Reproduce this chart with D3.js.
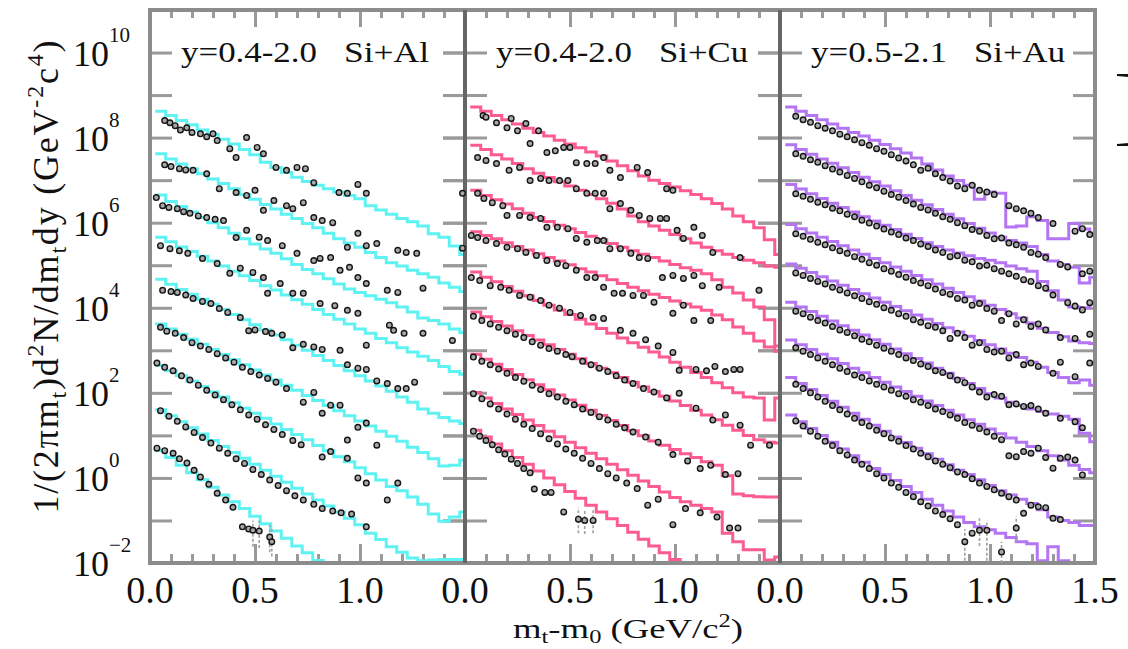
<!DOCTYPE html>
<html><head><meta charset="utf-8">
<script src="https://cdn.jsdelivr.net/npm/d3@7"></script>
<style>body{margin:0;background:#fff}text{font-family:"Liberation Serif","Times New Roman",serif;fill:#111}</style>
</head><body><svg id="c" width="1128" height="649"></svg>
<script>
// ---------- data ----------
const panels = ["Si+Al", "Si+Cu", "Si+Au"];
const rapidity = ["y=0.4-2.0", "y=0.4-2.0", "y=0.5-2.1"];
const lineColors = ["#5ef2f2", "#fb5b8f", "#b475f3"];
const xMinorTicks = [0.1,0.2,0.3,0.4,0.6,0.7,0.8,0.9,1.1,1.2,1.3,1.4];
const xMajorTicks = [0.5,1.0];
const xTickLabels = [[0,0.5,1.0],[0,0.5,1.0],[0,0.5,1.0,1.5]];
const yTickDecades = [-1,0,1,2,3,4,5,6,7,8,9,10];
const yLabelExps = [-2,0,2,4,6,8,10];
// model histograms: log10 of yield per 0.05 GeV bin
const binCenters = [0.05,0.10,0.15,0.20,0.25,0.30,0.35,0.40,0.45,0.50,0.55,0.60,0.65,0.70,0.75,0.80,0.85,0.90,0.95,1.00,1.05,1.10,1.15,1.20,1.25,1.30,1.35,1.40,1.45,1.50];
const binWidth = 0.05;
const alModel = [
 [8.62,8.52,8.40,8.30,8.18,8.08,7.96,7.85,7.72,7.60,7.42,7.30,7.18,7.07,6.97,6.88,6.80,6.72,6.64,6.56,6.40,6.30,6.20,6.10,6.02,5.92,5.74,5.66,5.45,5.25],
 [7.62,7.50,7.38,7.27,7.15,7.03,6.92,6.80,6.66,6.55,6.43,6.32,6.20,6.10,5.98,5.88,5.75,5.62,5.52,5.42,5.30,5.18,5.06,4.98,4.88,4.80,4.72,4.58,4.48,4.38],
 [6.65,6.50,6.38,6.25,6.12,6.00,5.88,5.75,5.62,5.50,5.38,5.28,5.15,5.02,4.90,4.80,4.68,4.56,4.44,4.36,4.28,4.20,4.12,4.02,3.90,3.76,3.70,3.62,3.50,3.42],
 [5.66,5.55,5.43,5.32,5.21,5.10,4.98,4.86,4.75,4.64,4.52,4.42,4.30,4.19,4.08,3.96,3.84,3.73,3.62,3.50,3.40,3.28,3.18,3.06,2.96,2.86,2.76,2.62,2.50,2.44],
 [4.67,4.55,4.43,4.32,4.20,4.08,3.96,3.84,3.72,3.60,3.48,3.36,3.25,3.12,3.00,2.88,2.76,2.64,2.52,2.40,2.28,2.16,2.04,1.90,1.78,1.62,1.52,1.42,1.34,1.28],
 [3.62,3.50,3.38,3.26,3.14,3.02,2.90,2.78,2.66,2.54,2.42,2.30,2.18,2.06,1.94,1.82,1.70,1.58,1.46,1.34,1.22,1.10,0.98,0.86,0.72,0.60,0.45,0.28,0.30,0.42],
 [2.64,2.52,2.40,2.27,2.15,2.02,1.90,1.77,1.64,1.52,1.40,1.27,1.14,1.02,0.90,0.76,0.64,0.50,0.38,0.24,0.10,-0.05,-0.20,-0.30,-0.45,-0.62,-0.85,-1.02,-0.92,-0.80],
 [1.60,1.46,1.32,1.18,1.03,0.88,0.74,0.60,0.46,0.32,0.18,0.04,-0.10,-0.24,-0.38,-0.52,-0.66,-0.80,-0.95,-1.10,-1.30,-1.45,-1.62,-1.75,-1.88,-1.95,-1.93,-1.92,-1.92,-1.92],
 [0.65,0.48,0.30,0.12,-0.04,-0.22,-0.40,-0.56,-0.72,-0.90,-1.08,-1.25,-1.42,-1.60,-1.76,-1.94,-2.10,null,null,null,null,null,null,null,null,null,null,null,null,null]
];
const cuModel = [
 [8.72,8.62,8.52,8.42,8.32,8.22,8.12,8.04,7.94,7.85,7.76,7.66,7.57,7.45,7.34,7.22,7.10,7.00,6.92,6.84,6.75,6.66,6.56,6.45,6.32,6.16,6.02,5.88,5.60,5.25],
 [7.82,7.72,7.60,7.50,7.39,7.27,7.16,7.06,6.96,6.86,6.76,6.66,6.56,6.46,6.32,6.16,6.02,5.92,5.82,5.72,5.62,5.52,5.42,5.34,5.26,5.18,5.12,5.06,4.98,4.95],
 [6.76,6.64,6.54,6.44,6.33,6.22,6.12,6.03,5.94,5.86,5.77,5.68,5.60,5.51,5.42,5.34,5.26,5.18,5.10,5.02,4.94,4.88,4.80,4.66,4.48,4.35,4.18,4.02,3.72,3.10],
 [5.79,5.70,5.62,5.53,5.44,5.36,5.27,5.18,5.10,5.01,4.92,4.84,4.75,4.66,4.57,4.48,4.40,4.32,4.24,4.16,4.09,4.02,3.94,3.83,3.72,3.55,3.40,3.22,3.08,2.98],
 [4.84,4.72,4.61,4.50,4.39,4.28,4.17,4.06,3.95,3.84,3.73,3.62,3.51,3.40,3.29,3.18,3.07,2.96,2.84,2.72,2.60,2.48,2.36,2.24,2.12,2.00,1.90,1.88,1.36,1.88],
 [3.90,3.79,3.68,3.57,3.46,3.35,3.24,3.13,3.02,2.91,2.80,2.69,2.58,2.47,2.36,2.25,2.14,2.03,1.92,1.81,1.70,1.59,1.48,1.37,1.24,1.12,1.00,0.90,0.84,0.82],
 [2.91,2.79,2.67,2.55,2.43,2.31,2.19,2.07,1.95,1.83,1.71,1.59,1.47,1.35,1.23,1.11,0.99,0.87,0.77,0.67,0.57,0.48,0.38,0.30,0.05,-0.38,-0.42,-0.44,-0.45,-0.45],
 [2.01,1.88,1.75,1.62,1.49,1.36,1.23,1.10,0.97,0.84,0.71,0.58,0.45,0.32,0.19,0.06,-0.07,-0.20,-0.33,-0.46,-0.56,-0.64,-0.72,-0.80,-1.30,-1.50,-1.69,-1.69,-1.93,-1.86],
 [1.12,0.96,0.80,0.64,0.48,0.32,0.16,0.00,-0.16,-0.32,-0.48,-0.64,-0.80,-0.96,-1.12,-1.28,-1.44,-1.60,-1.76,-1.92,-2.10,null,null,null,null,null,null,null,null,null]
];
const auModel = [
 [8.72,8.62,8.52,8.42,8.32,8.22,8.12,8.04,7.94,7.84,7.74,7.64,7.52,7.38,7.24,7.10,6.99,6.88,6.55,6.72,6.69,5.90,5.92,6.14,6.05,5.62,5.62,5.98,5.85,5.75],
 [7.83,7.72,7.61,7.50,7.40,7.29,7.18,7.07,6.96,6.86,6.75,6.64,6.53,6.42,6.31,6.20,6.09,5.98,5.87,5.76,5.66,5.58,5.52,5.44,5.25,5.10,5.02,4.95,4.58,4.72],
 [6.90,6.79,6.68,6.57,6.46,6.36,6.25,6.14,6.04,5.94,5.84,5.73,5.63,5.53,5.44,5.36,5.29,5.22,5.16,5.12,5.06,4.98,4.92,4.86,4.62,4.40,4.18,4.02,4.00,4.10],
 [5.96,5.86,5.76,5.66,5.56,5.46,5.36,5.26,5.16,5.06,4.96,4.86,4.76,4.66,4.56,4.46,4.36,4.26,4.16,4.06,3.96,3.86,3.76,3.64,3.52,3.42,3.32,3.22,3.18,3.16],
 [5.03,4.93,4.83,4.73,4.63,4.53,4.43,4.33,4.23,4.13,4.03,3.93,3.83,3.73,3.63,3.53,3.43,3.33,3.23,3.13,3.03,2.93,2.83,2.72,2.60,2.48,2.36,2.24,2.30,2.18],
 [4.13,4.02,3.91,3.80,3.69,3.58,3.47,3.36,3.25,3.14,3.03,2.92,2.81,2.70,2.58,2.46,2.34,2.22,2.10,1.98,1.88,1.78,1.70,1.62,1.56,1.50,1.45,1.38,1.05,0.85],
 [3.24,3.13,3.02,2.91,2.80,2.69,2.58,2.47,2.36,2.25,2.14,2.03,1.92,1.81,1.70,1.59,1.48,1.37,1.26,1.15,1.04,0.94,0.84,0.74,0.64,0.52,0.42,0.30,0.20,0.12],
 [2.36,2.22,2.08,1.94,1.80,1.66,1.52,1.38,1.24,1.10,0.96,0.83,0.70,0.57,0.44,0.31,0.18,0.08,-0.04,-0.18,-0.30,-0.40,-0.50,-0.60,-0.75,-0.92,-1.00,-1.05,-1.12,-1.12],
 [1.48,1.32,1.16,1.00,0.84,0.68,0.52,0.37,0.22,0.08,-0.06,-0.20,-0.34,-0.50,-0.64,-0.78,-0.92,-1.05,-1.15,-1.22,-1.30,-1.40,-1.50,-1.55,-1.95,-1.62,-1.95,-2.20,-2.20,-2.20]
];
// measured points: [mt-m0, log10 yield]
const alData = [
 [[0.07,8.40],[0.095,8.35],[0.12,8.28],[0.145,8.18],[0.175,8.23],[0.20,8.12],[0.24,8.09],[0.27,8.02],[0.30,8.09],[0.32,7.93],[0.38,7.74],[0.41,7.53],[0.46,8.0],[0.51,7.77],[0.54,7.62],[0.60,7.30],[0.65,7.23],[0.70,7.30],[0.74,7.27],[0.78,6.94],[0.90,6.71],[0.94,6.69],[0.99,6.90],[1.03,6.69]],
 [[0.07,7.36],[0.10,7.32],[0.14,7.27],[0.17,7.24],[0.205,7.23],[0.27,7.15],[0.33,6.80],[0.41,6.71],[0.46,6.64],[0.50,6.76],[0.54,6.29],[0.59,6.52],[0.65,6.40],[0.68,6.33],[0.73,6.47],[0.78,6.12],[0.82,6.05],[0.87,6.0],[0.94,5.42],[0.99,5.75],[1.03,5.46],[1.08,5.51],[1.18,5.35],[1.22,5.30],[1.27,5.28]],
 [[0.03,6.59],[0.06,6.40],[0.09,6.36],[0.13,6.33],[0.16,6.26],[0.19,6.22],[0.23,6.16],[0.27,6.12],[0.31,6.08],[0.35,6.05],[0.41,5.65],[0.46,5.82],[0.52,5.66],[0.56,5.58],[0.63,5.46],[0.70,5.28],[0.78,5.11],[0.81,5.16],[0.86,5.18],[0.905,4.88],[0.95,4.95],[0.99,4.71],[1.03,4.57],[1.13,4.41],[1.18,4.36],[1.30,4.46]],
 [[0.05,5.46],[0.095,5.39],[0.14,5.34],[0.18,5.28],[0.25,5.16],[0.32,5.04],[0.38,4.81],[0.43,4.93],[0.49,4.83],[0.54,4.71],[0.56,4.34],[0.62,4.57],[0.68,4.34],[0.73,4.34],[0.81,4.10],[0.88,4.05],[0.94,3.94],[0.99,3.87],[1.03,3.12],[1.14,3.59],[1.16,3.47],[1.21,3.40],[1.30,3.40],[1.44,3.23]],
 [[0.06,4.41],[0.10,4.38],[0.13,4.36],[0.17,4.30],[0.205,4.22],[0.25,4.15],[0.29,4.10],[0.33,3.98],[0.37,3.89],[0.43,3.77],[0.47,3.46],[0.50,3.48],[0.55,3.44],[0.58,3.40],[0.63,3.36],[0.68,3.06],[0.73,3.14],[0.78,3.08],[0.82,3.02],[0.905,3.0],[0.94,2.66],[0.99,2.58],[1.03,2.55],[1.08,2.28],[1.13,2.22],[1.18,2.10],[1.22,2.10],[1.26,2.25]],
 [[0.05,3.54],[0.08,3.45],[0.12,3.40],[0.16,3.30],[0.20,3.18],[0.24,3.10],[0.28,3.02],[0.32,2.92],[0.36,2.82],[0.40,2.72],[0.44,2.60],[0.48,2.50],[0.52,2.42],[0.56,2.34],[0.60,2.25],[0.65,2.10],[0.73,1.78],[0.78,2.01],[0.82,1.52],[0.86,1.71],[0.905,1.71],[0.94,0.89],[0.99,1.19],[1.03,1.29],[1.08,0.77]],
 [[0.033,2.70],[0.07,2.60],[0.11,2.52],[0.15,2.40],[0.19,2.30],[0.23,2.18],[0.27,2.06],[0.31,1.95],[0.35,1.84],[0.39,1.72],[0.43,1.60],[0.47,1.48],[0.51,1.38],[0.55,1.25],[0.59,1.14],[0.63,1.02],[0.68,0.88],[0.72,0.78],[0.82,0.49],[0.86,0.62],[0.94,0.46],[0.99,0.0],[1.03,-0.12],[1.13,-0.52],[1.18,-0.12]],
 [[0.05,1.58],[0.09,1.45],[0.13,1.33],[0.17,1.20],[0.21,1.07],[0.25,0.95],[0.29,0.82],[0.33,0.70],[0.37,0.58],[0.41,0.45],[0.45,0.34],[0.49,0.20],[0.53,0.08],[0.57,-0.05],[0.61,-0.18],[0.65,-0.30],[0.69,-0.42],[0.73,-0.52],[0.78,-0.62],[0.82,-0.72],[0.87,-0.78],[0.91,-0.82],[0.96,-0.85],[1.03,-1.15]],
 [[0.033,0.70],[0.07,0.64],[0.11,0.58],[0.14,0.45],[0.176,0.35],[0.21,0.18],[0.24,0.02],[0.28,-0.15],[0.32,-0.36],[0.36,-0.52],[0.395,-0.69],[0.44,-1.15],[0.47,-1.20],[0.49,-1.23],[0.52,-1.25],[0.57,-1.39],[0.58,-1.50]]
];
const cuData = [
 [[0.086,8.52],[0.10,8.48],[0.15,8.35],[0.20,8.23],[0.22,8.45],[0.25,8.16],[0.29,8.33],[0.31,7.86],[0.35,8.16],[0.39,7.65],[0.43,7.69],[0.47,7.77],[0.50,7.77],[0.53,7.41],[0.58,7.39],[0.62,7.39],[0.66,7.53],[0.69,7.23],[0.74,7.06],[0.82,7.30],[0.87,7.18],[0.96,6.80],[0.99,6.76]],
 [[0.06,7.53],[0.10,7.46],[0.15,7.39],[0.21,7.23],[0.26,7.30],[0.31,6.99],[0.36,7.04],[0.40,6.99],[0.45,6.99],[0.49,6.99],[0.53,6.80],[0.58,6.69],[0.62,6.69],[0.66,6.69],[0.69,6.33],[0.74,6.45],[0.79,6.29],[0.83,6.17],[0.88,6.10],[0.93,6.10],[0.96,6.10],[1.01,5.82],[1.04,5.63],[1.09,5.89],[1.13,5.70],[1.18,5.30],[1.31,5.18]],
 [[-0.012,6.69],[0.06,6.69],[0.09,6.57],[0.13,6.47],[0.18,6.40],[0.20,6.17],[0.26,6.17],[0.31,6.12],[0.36,6.10],[0.39,5.89],[0.44,5.89],[0.49,5.86],[0.53,5.63],[0.58,5.54],[0.63,5.58],[0.66,5.58],[0.69,5.39],[0.74,5.39],[0.79,5.28],[0.83,5.18],[0.87,5.16],[0.94,4.71],[0.99,4.76],[1.04,4.69],[1.09,4.76],[1.13,4.52],[1.21,4.48],[1.40,4.41]],
 [[-0.012,5.40],[0.03,5.70],[0.06,5.65],[0.10,5.58],[0.15,5.51],[0.20,5.42],[0.25,5.39],[0.29,5.30],[0.34,5.23],[0.39,5.11],[0.44,5.04],[0.48,4.99],[0.53,4.88],[0.58,4.71],[0.62,4.71],[0.66,4.48],[0.71,4.34],[0.75,4.34],[0.80,4.29],[0.85,4.29],[0.90,4.13],[0.99,3.87],[1.04,4.06],[1.09,3.70],[1.17,3.70]],
 [[0.03,4.71],[0.07,4.64],[0.12,4.52],[0.17,4.48],[0.21,4.41],[0.26,4.29],[0.31,4.25],[0.36,4.17],[0.40,4.06],[0.45,3.99],[0.50,3.89],[0.55,3.82],[0.61,3.77],[0.66,3.75],[0.74,3.47],[0.80,3.40],[0.86,3.25],[0.92,3.10],[0.99,2.95],[1.02,2.53],[1.10,2.55],[1.15,2.52],[1.19,2.62],[1.24,2.50],[1.28,2.55],[1.31,2.55]],
 [[0.04,3.80],[0.08,3.70],[0.12,3.62],[0.16,3.54],[0.20,3.46],[0.24,3.38],[0.28,3.30],[0.32,3.20],[0.36,3.12],[0.40,3.04],[0.44,2.98],[0.48,2.90],[0.51,2.85],[0.56,2.74],[0.60,2.66],[0.64,2.58],[0.68,2.50],[0.72,2.40],[0.76,2.30],[0.80,2.22],[0.85,2.10],[0.90,2.02],[0.96,1.88],[1.02,1.99],[1.10,1.64],[1.18,1.36],[1.24,1.48],[1.31,1.24],[1.36,0.77],[1.45,0.77]],
 [[0.04,2.84],[0.08,2.74],[0.12,2.66],[0.16,2.56],[0.20,2.46],[0.24,2.36],[0.28,2.27],[0.32,2.18],[0.36,2.08],[0.40,1.98],[0.44,1.90],[0.48,1.80],[0.52,1.72],[0.56,1.62],[0.60,1.54],[0.64,1.44],[0.68,1.36],[0.72,1.26],[0.76,1.18],[0.80,1.08],[0.86,0.96],[0.92,0.84],[0.99,0.55],[1.06,0.40],[1.12,0.22],[1.17,0.30],[1.24,0.08],[1.30,0.10]],
 [[0.04,1.98],[0.08,1.86],[0.12,1.74],[0.16,1.62],[0.20,1.50],[0.24,1.38],[0.28,1.26],[0.32,1.16],[0.36,1.04],[0.40,0.92],[0.44,0.80],[0.48,0.68],[0.52,0.58],[0.56,0.46],[0.60,0.34],[0.64,0.22],[0.68,0.10],[0.72,0.0],[0.77,-0.12],[0.82,-0.25],[0.87,-0.64],[0.92,-0.50],[0.99,-1.10],[1.05,-0.72],[1.12,-0.82],[1.20,-0.92],[1.26,-1.18],[1.30,-1.18]],
 [[0.04,1.10],[0.07,0.98],[0.10,0.88],[0.13,0.78],[0.16,0.66],[0.19,0.56],[0.22,0.44],[0.25,0.34],[0.28,0.22],[0.31,0.12],[0.33,-0.26],[0.38,-0.34],[0.41,-0.34],[0.47,-0.80],[0.54,-0.97],[0.57,-1.00],[0.61,-1.00]]
];
const auDataX = [0.040,0.075,0.110,0.145,0.180,0.215,0.250,0.285,0.320,0.355,0.390,0.425,0.460,0.495,0.530,0.565,0.600,0.635,0.670,0.705,0.740,0.775,0.810,0.845,0.880,0.915,0.950,0.985,1.020,1.055,1.090,1.125,1.160,1.195,1.230,1.265,1.300,1.335,1.370,1.405,1.440,1.475];
const auData = [
 [null,8.50,8.42,8.36,8.28,8.22,8.16,8.08,8.02,7.95,7.88,7.82,7.74,7.68,7.60,7.52,7.45,7.36,7.23,7.28,7.15,7.06,6.98,6.86,6.80,6.88,6.76,6.72,6.66,null,6.40,6.33,6.28,6.22,6.12,null,5.98,null,null,5.80,5.86,5.72],
 [null,7.62,7.56,7.48,7.42,7.34,7.26,7.19,7.11,7.04,6.96,6.88,6.82,6.74,6.66,6.60,6.52,6.44,6.36,6.30,6.22,6.14,6.08,6.00,5.93,5.84,5.80,5.70,5.62,5.64,5.52,5.48,5.42,5.30,5.26,5.18,null,5.02,4.96,null,4.80,4.86],
 [null,6.68,6.62,6.55,6.48,6.42,6.34,6.28,6.20,6.14,6.06,5.99,5.92,5.85,5.78,5.72,5.64,5.58,5.50,5.44,5.36,5.30,5.20,5.22,5.12,5.08,4.98,5.00,4.92,4.86,4.80,4.74,4.66,4.62,4.52,4.46,4.30,null,4.12,4.04,3.95,4.12],
 [null,5.74,5.68,5.61,5.54,5.48,5.41,5.34,5.28,5.20,5.14,5.06,5.00,4.92,4.86,4.78,4.72,4.64,4.58,4.52,4.44,4.36,4.32,4.22,4.18,4.06,4.10,3.98,3.92,3.70,3.86,3.62,3.72,3.56,3.62,3.48,null,3.30,null,3.28,null,3.38],
 [null,4.82,4.76,4.69,4.62,4.56,4.48,4.42,4.35,4.28,4.22,4.14,4.08,4.00,3.94,3.86,3.80,3.72,3.66,3.58,3.54,3.46,3.28,3.40,3.30,3.12,3.18,3.02,2.96,2.98,2.82,2.90,2.66,2.70,2.62,null,2.46,2.72,null,2.38,null,2.70],
 [null,3.92,3.86,3.78,3.70,3.64,3.56,3.48,3.42,3.34,3.26,3.20,3.12,3.05,2.98,2.90,2.82,2.76,2.68,2.62,2.52,2.48,2.40,2.30,2.24,2.14,2.02,1.90,1.96,1.92,1.72,1.74,1.68,1.70,1.62,1.52,null,1.40,null,1.32,1.18,null],
 [null,3.06,2.98,2.90,2.82,2.74,2.66,2.58,2.50,2.42,2.36,2.28,2.20,2.14,2.06,1.98,1.92,1.84,1.78,1.70,1.62,1.56,1.48,1.40,1.30,1.24,1.16,1.08,0.98,0.90,0.52,0.50,0.62,0.58,0.70,0.48,0.23,0.46,0.49,0.42,0.07,null],
 [null,2.20,2.10,2.00,1.90,1.80,1.70,1.60,1.50,1.40,1.30,1.22,1.12,1.04,0.94,0.86,0.76,0.68,0.58,0.50,0.40,0.32,0.24,0.14,0.08,-0.02,-0.12,-0.20,-0.28,-0.36,-0.44,-0.52,-0.83,-0.64,-0.68,-0.70,-0.95,-0.98,null,null,null,null],
 [null,1.34,1.22,1.10,0.98,0.86,0.76,0.64,0.54,0.42,0.32,0.22,0.10,0.00,-0.12,-0.22,-0.34,-0.44,-0.56,-0.66,-0.78,-0.86,-0.96,-1.10,-1.50,-1.30,-1.23,-1.23,null,-1.74,null,-1.18,null,null,null,null,null,null,null,null,null,null]
];
// error bars on the lowest points: [panel, mt-m0, log10 low, log10 high]
const errorBars = [
 [0,0.49,-1.62,-1.00],[0,0.52,-1.65,-1.00],[0,0.57,-1.75,-1.10],[0,0.58,-1.85,-1.20],
 [1,0.54,-1.30,-0.70],[1,0.57,-1.32,-0.75],[1,0.61,-1.30,-0.75],
 [2,0.88,-1.95,-1.20],[2,0.95,-1.60,-0.95],[2,0.985,-1.95,-1.00],[2,1.055,-2.00,-1.50],[2,1.125,-1.50,-0.90]
];

// ---------- layout ----------
const svg = d3.select("#c");
const plotLeft = 150, plotTop = 10, plotBottom = 563, panelW = 315;
const y = d3.scaleLog().domain([1e-2, 1e11]).range([plotBottom, plotTop]);
const xs = panels.map((p, i) => d3.scaleLinear().domain([0, 1.5]).range([plotLeft + i * panelW, plotLeft + (i + 1) * panelW]));
const defs = svg.append("defs");
panels.forEach((p, i) => defs.append("clipPath").attr("id", "clip" + i).append("rect")
  .attr("x", plotLeft + i * panelW).attr("y", plotTop).attr("width", panelW).attr("height", plotBottom - plotTop));

const tickColor = "#9a9a9a";
panels.forEach((p, i) => {
  const x0 = plotLeft + i * panelW, x1 = x0 + panelW;
  const yv = yTickDecades.map(e => Math.pow(10, e));
  const gl = svg.append("g").attr("transform", `translate(${x0 + 22},0)`)
    .call(d3.axisLeft(y).tickValues(yv).tickSize(i === 0 ? 22 : 44).tickFormat(""));
  const gr = svg.append("g").attr("transform", `translate(${x1 - 22},0)`)
    .call(d3.axisRight(y).tickValues(yv).tickSize(22).tickFormat(""));
  [gl, gr].forEach(g => { g.select(".domain").remove(); g.selectAll("line").attr("stroke", tickColor).attr("stroke-width", 3); });
  const mk = (vals, len, gen, ty) => {
    const g = svg.append("g").attr("transform", `translate(0,${ty})`).call(gen(xs[i]).tickValues(vals).tickSize(len).tickFormat(""));
    g.select(".domain").remove(); g.selectAll("line").attr("stroke", tickColor).attr("stroke-width", 3);
  };
  mk(xMinorTicks, 9, d3.axisTop, plotBottom);
  mk(xMajorTicks, 19, d3.axisTop, plotBottom);
  mk(xMinorTicks, 8, d3.axisBottom, plotTop);
  mk(xMajorTicks, 17, d3.axisBottom, plotTop);
});

// model histograms
const modelSets = [alModel, cuModel, auModel];
modelSets.forEach((set, i) => {
  const line = d3.line().defined(d => d[1] !== null).x(d => xs[i](d[0])).y(d => y(Math.pow(10, d[1])));
  const g = svg.append("g").attr("clip-path", `url(#clip${i})`);
  set.forEach(vals => {
    const pts = [];
    vals.forEach((v, k) => { pts.push([binCenters[k] - binWidth / 2, v], [binCenters[k] + binWidth / 2, v]); });
    g.append("path").attr("d", line(pts)).attr("fill", "none").attr("stroke", lineColors[i])
      .attr("stroke-width", 3).attr("stroke-linejoin", "miter");
  });
});

// frame
const frame = svg.append("g");
frame.append("rect").attr("x", plotLeft).attr("y", plotTop).attr("width", panelW * 3).attr("height", plotBottom - plotTop)
  .attr("fill", "none").attr("stroke", "#8c8c8c").attr("stroke-width", 4);
[1, 2].forEach(i => frame.append("line").attr("x1", plotLeft + i * panelW).attr("x2", plotLeft + i * panelW)
  .attr("y1", plotTop).attr("y2", plotBottom).attr("stroke", "#666").attr("stroke-width", 4));

// error bars
const eb = svg.append("g");
errorBars.forEach(([p, xv, lo, hi]) => eb.append("line").attr("clip-path", `url(#clip${p})`)
  .attr("x1", xs[p](xv)).attr("x2", xs[p](xv)).attr("y1", y(Math.pow(10, lo))).attr("y2", y(Math.pow(10, hi)))
  .attr("stroke", "#a0a0a0").attr("stroke-width", 1.6).attr("stroke-dasharray", "3,2"));

// data points
const dots = svg.append("g");
const dot = (sx, xv, L) => dots.append("circle").attr("cx", sx(xv)).attr("cy", y(Math.pow(10, L))).attr("r", 2.8)
  .attr("fill", "#a8a8a8").attr("stroke", "#151515").attr("stroke-width", 1.4);
alData.forEach(s => s.forEach(d => dot(xs[0], d[0], d[1])));
cuData.forEach(s => s.forEach(d => dot(xs[1], d[0], d[1])));
auData.forEach(s => s.forEach((L, k) => { if (L !== null) dot(xs[2], auDataX[k], L); }));

// y tick labels
yLabelExps.forEach(e => {
  const t = svg.append("text").attr("x", 73).attr("y", y(Math.pow(10, e)) + 13).attr("font-size", 36);
  t.append("tspan").text("10");
  t.append("tspan").attr("font-size", 21).attr("dy", -24).text(e < 0 ? "\u2212" + (-e) : String(e));
});
// x tick labels
xTickLabels.forEach((vals, i) => vals.forEach(v => svg.append("text").attr("x", xs[i](v)).attr("y", 603)
  .attr("text-anchor", "middle").attr("font-size", 38).text(d3.format(".1f")(v))));

// panel labels
panels.forEach((p, i) => {
  const x0 = plotLeft + i * panelW;
  svg.append("text").attr("x", x0 + 31).attr("y", 62).attr("font-size", 30)
    .attr("textLength", 136).attr("lengthAdjust", "spacingAndGlyphs").text(rapidity[i]);
  svg.append("text").attr("x", x0 + 194).attr("y", 62).attr("font-size", 30)
    .attr("textLength", [85, 89, 91][i]).attr("lengthAdjust", "spacingAndGlyphs").text(p);
});

// x axis title
const xt = svg.append("text").attr("x", 628).attr("y", 638).attr("text-anchor", "middle").attr("font-size", 27)
  .attr("textLength", 230).attr("lengthAdjust", "spacingAndGlyphs");
xt.append("tspan").text("m");
xt.append("tspan").attr("font-size", 18).attr("dy", 5).text("t");
xt.append("tspan").attr("dy", -5).text("-m");
xt.append("tspan").attr("font-size", 18).attr("dy", 5).text("0");
xt.append("tspan").attr("dy", -5).text(" (GeV/c");
xt.append("tspan").attr("font-size", 18).attr("dy", -11).text("2");
xt.append("tspan").attr("dy", 11).text(")");

// y axis title
const yt = svg.append("text").attr("transform", "translate(58,277) rotate(-90)").attr("text-anchor", "middle")
  .attr("font-size", 36).attr("textLength", 473).attr("lengthAdjust", "spacing");
const seg = (txt, fs, dy) => { const s = yt.append("tspan").text(txt); if (fs) s.attr("font-size", fs); if (dy) s.attr("dy", dy); };
seg("1/(2\u03c0m"); seg("t", 24, 8); seg(")d", null, -8); seg("2", 24, -15); seg("N/dm", null, 15);
seg("t", 24, 8); seg("dy (GeV", null, -8); seg("-2", 24, -15); seg("c", null, 15); seg("4", 24, -15); seg(")", null, 15);

// bracket of a neighbouring label that runs past the right edge of the picture
svg.append("text").attr("transform", "translate(1112,134) scale(1.6,1)").attr("font-size", 86).text("]");
</script></body></html>
